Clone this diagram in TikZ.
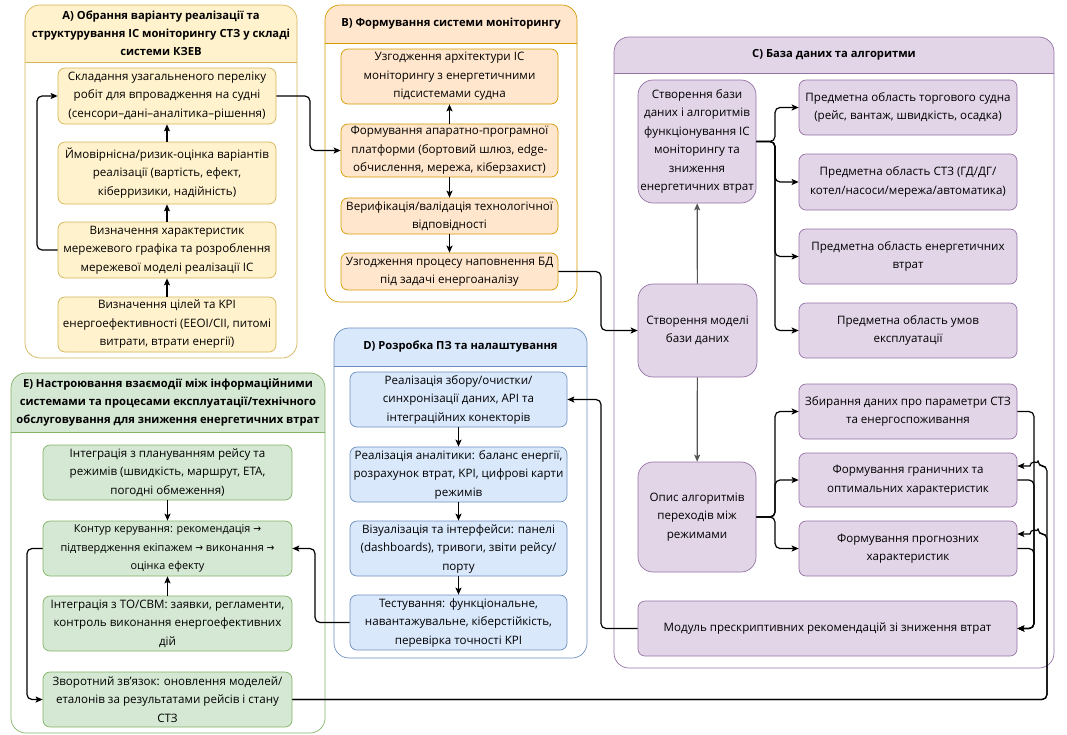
\documentclass[tikz,border=0pt]{standalone}
\usepackage{fontspec}
\setmainfont{Open Sans}
\newfontfamily\arrfont{DejaVu Sans}
\usetikzlibrary{arrows.meta}
\definecolor{yf}{HTML}{FFF2CC}\definecolor{yd}{HTML}{D6B656}
\definecolor{of}{HTML}{FFE6CC}\definecolor{od}{HTML}{D79B00}
\definecolor{pf}{HTML}{E1D5E7}\definecolor{pd}{HTML}{9673A6}
\definecolor{bf}{HTML}{DAE8FC}\definecolor{bd}{HTML}{6C8EBF}
\definecolor{gf}{HTML}{D5E8D4}\definecolor{gd}{HTML}{82B366}
\definecolor{greyline}{HTML}{555555}
\newcommand{\ra}{\scalebox{0.85}[1]{\arrfont →}}
\tikzset{
  txt/.style={align=center, font=\fontsize{11.6}{18.5}\selectfont, inner sep=1pt},
  ttl/.style={align=center, font=\bfseries\fontsize{11.2}{18}\selectfont, inner sep=1pt},
  box/.style={txt, rounded corners=7pt, draw, line width=0.7pt},
  ybox/.style={box, fill=yf, draw=yd},
  obox/.style={box, fill=of, draw=od},
  pbox/.style={box, fill=pf, draw=pd},
  bbox/.style={box, fill=bf, draw=bd},
  gbox/.style={box, fill=gf, draw=gd},
  bigp/.style={pbox, rounded corners=15pt},
  conn/.style={line width=1.2pt, rounded corners=5pt, -{Stealth[length=7pt,width=6pt,inset=1.5pt]}},
  gconn/.style={conn, draw=greyline},
}
\newcommand{\lane}[7]{% x1 y1 x2 y2 band fill draw
  \begin{scope}
    \clip[rounded corners=15pt] (#1,#2) rectangle (#3,#4);
    \fill[white] (#1,#2) rectangle (#3,#4);
    \fill[#6] (#1,#2) rectangle (#3,#5);
  \end{scope}
  \draw[#7, line width=0.7pt, rounded corners=15pt] (#1,#2) rectangle (#3,#4);
  \draw[#7, line width=0.7pt] (#1,#5) -- (#3,#5);
}
\begin{document}
\begin{tikzpicture}[x=1pt,y=-1pt]
\useasboundingbox (0,0) rectangle (1067,734);
\fill[white] (0,0) rectangle (1067,734);

% containers
\lane{25}{5}{297}{358}{62}{yf}{yd}
\lane{325}{5}{577}{302}{43}{of}{od}
\lane{614}{37}{1054}{668}{73}{pf}{pd}
\lane{334}{328}{587}{658}{366}{bf}{bd}
\lane{11}{373}{325}{733}{432}{gf}{gd}

\node[ttl] (tA) at (161,33.5) {A) Обрання варіанту реалізації та\\структурування ІС моніторингу СТЗ у складі\\системи КЗЕВ};
\node[ttl] (tB) at (451,24) {B) Формування системи моніторингу};
\node[ttl] (tC) at (834,55) {C) База даних та алгоритми};
\node[ttl] (tD) at (460.5,347) {D) Розробка ПЗ та налаштування};
\node[ttl] (tE) at (168,402.5) {E) Настроювання взаємодії між інформаційними\\системами та процесами експлуатації/технічного\\обслуговування для зниження енергетичних втрат};

% A
\node[ybox, minimum width=218pt, minimum height=56pt] (a1) at (167,96) {Складання узагальненого переліку\\робіт для впровадження на судні\\(сенсори–дані–аналітика–рішення)};
\node[ybox, minimum width=218pt, minimum height=62pt] (a2) at (167,173) {Ймовірнісна/ризик-оцінка варіантів\\реалізації (вартість, ефект,\\кіберризики, надійність)};
\node[ybox, minimum width=218pt, minimum height=56pt] (a3) at (167,250) {Визначення характеристик\\мережевого графіка та розроблення\\мережевої моделі реалізації ІС};
\node[ybox, minimum width=218pt, minimum height=55pt] (a4) at (167,324.5) {Визначення цілей та KPI\\енергоефективності (EEOI/CII, питомі\\витрати, втрати енергії)};

% B
\node[obox, minimum width=217pt, minimum height=55pt] (b1) at (449.5,76.5) {Узгодження архітектури ІС\\моніторингу з енергетичними\\підсистемами судна};
\node[obox, minimum width=217pt, minimum height=53pt] (b2) at (449.5,150.5) {Формування апаратно-програмної\\платформи (бортовий шлюз, edge-\\обчислення, мережа, кіберзахист)};
\node[obox, minimum width=217pt, minimum height=36pt] (b3) at (449.5,216) {Верифікація/валідація технологічної\\відповідності};
\node[obox, minimum width=217pt, minimum height=37pt] (b4) at (449.5,271.5) {Узгодження процесу наповнення БД\\під задачі енергоаналізу};

% C
\node[bigp, minimum width=118pt, minimum height=123pt] (c1) at (697,141.5) {Створення бази\\даних і алгоритмів\\функціонування ІС\\моніторингу та\\зниження\\енергетичних втрат};
\node[bigp, minimum width=119pt, minimum height=93pt] (c2) at (697.5,330.5) {Створення моделі\\бази даних};
\node[bigp, minimum width=118pt, minimum height=110pt] (c3) at (697,517) {Опис алгоритмів\\переходів між\\режимами};
\node[pbox, minimum width=218pt, minimum height=55pt] (p1) at (908,107.5) {Предметна область торгового судна\\(рейс, вантаж, швидкість, осадка)};
\node[pbox, minimum width=218pt, minimum height=56pt] (p2) at (908,182) {Предметна область СТЗ (ГД/ДГ/\\котел/насоси/мережа/автоматика)};
\node[pbox, minimum width=218pt, minimum height=55pt] (p3) at (908,256.5) {Предметна область енергетичних\\втрат};
\node[pbox, minimum width=218pt, minimum height=55pt] (p4) at (908,330.5) {Предметна область умов\\експлуатації};
\node[pbox, minimum width=218pt, minimum height=55pt] (q1) at (908,411.5) {Збирання даних про параметри СТЗ\\та енергоспоживання};
\node[pbox, minimum width=218pt, minimum height=54pt] (q2) at (908,480) {Формування граничних та\\оптимальних характеристик};
\node[pbox, minimum width=218pt, minimum height=55pt] (q3) at (908,548.5) {Формування прогнозних\\характеристик};
\node[pbox, minimum width=379pt, minimum height=55pt] (m) at (827.5,628.5) {Модуль прескриптивних рекомендацій зі зниження втрат};

% D
\node[bbox, minimum width=217pt, minimum height=55pt] (d1) at (458.5,399.5) {Реалізація збору/очистки/\\синхронізації даних, API та\\інтеграційних конекторів};
\node[bbox, minimum width=217pt, minimum height=55pt] (d2) at (458.5,474.5) {Реалізація аналітики: баланс енергії,\\розрахунок втрат, KPI, цифрові карти\\режимів};
\node[bbox, minimum width=217pt, minimum height=55pt] (d3) at (458.5,548.5) {Візуалізація та інтерфейси: панелі\\(dashboards), тривоги, звіти рейсу/\\порту};
\node[bbox, minimum width=217pt, minimum height=55pt] (d4) at (458.5,622.5) {Тестування: функціональне,\\навантажувальне, кіберстійкість,\\перевірка точності KPI};

% E
\node[gbox, minimum width=249pt, minimum height=55pt] (e1) at (167.5,472.5) {Інтеграція з плануванням рейсу та\\режимів (швидкість, маршрут, ETA,\\погодні обмеження)};
\node[gbox, minimum width=249pt, minimum height=55pt, font=\fontsize{10.9}{18.5}\selectfont] (e2) at (167.5,548.5) {Контур керування: рекомендація \ra\\підтвердження екіпажем \ra{} виконання \ra\\оцінка ефекту};
\node[gbox, minimum width=249pt, minimum height=55pt] (e3) at (167.5,623.5) {Інтеграція з ТО/CBM: заявки, регламенти,\\контроль виконання енергоефективних\\дій};
\node[gbox, minimum width=249pt, minimum height=55pt] (e4) at (167.5,699.5) {Зворотний зв’язок: оновлення моделей/\\еталонів за результатами рейсів і стану\\СТЗ};

% A connectors
\draw[conn] (a4) -- (a3);
\draw[conn] (a3) -- (a2);
\draw[conn] (a2) -- (a1);
\draw[conn] (a3.west) -- (37,250) -- (37,96) -- (a1.west);
\draw[conn] (a1.east) -- (310,96) -- (310,150.5) -- (b2.west);
% B
\draw[conn] (b2) -- (b1);
\draw[conn] (b2) -- (b3);
\draw[conn] (b3) -- (b4);
\draw[conn] (b4.east) -- (601,271.5) -- (601,330.5) -- (c2.west);
% C
\draw[gconn] (c2) -- (c1);
\draw[gconn] (c2) -- (c3);
\foreach \t in {p1,p2,p3,p4}{\draw[conn] (c1.east) -- (775,141.5) |- (\t.west);}
\foreach \t in {q1,q2,q3}{\draw[conn] (c3.east) -- (775,517) |- (\t.west);}
\foreach \s in {q1,q2,q3}{\draw[conn] (\s.east) -| (1034,628.5) -- (m.east);}
\draw[conn] (e4.east) -- (1047,699.5) -- (1047,466) -- (1038,466) [sharp corners] arc[start angle=0,end angle=180,radius=4pt] -- ([yshift=14pt]q2.east);
\draw[conn] (e4.east) -- (1047,699.5) -- (1047,534) -- (1038,534) [sharp corners] arc[start angle=0,end angle=180,radius=4pt] -- ([yshift=14.5pt]q3.east);
\draw[conn] (m.west) -- (601,628.5) -- (601,399.5) -- (d1.east);
% D
\draw[conn] (d1) -- (d2);
\draw[conn] (d2) -- (d3);
\draw[conn] (d3) -- (d4);
\draw[conn] (d4.west) -- (315,622.5) -- (315,548.5) -- (e2.east);
% E
\draw[conn] (e1) -- (e2);
\draw[conn] (e3) -- (e2);
\draw[conn] (e2.west) -- (27,548.5) -- (27,699.5) -- (e4.west);
\end{tikzpicture}
\end{document}
